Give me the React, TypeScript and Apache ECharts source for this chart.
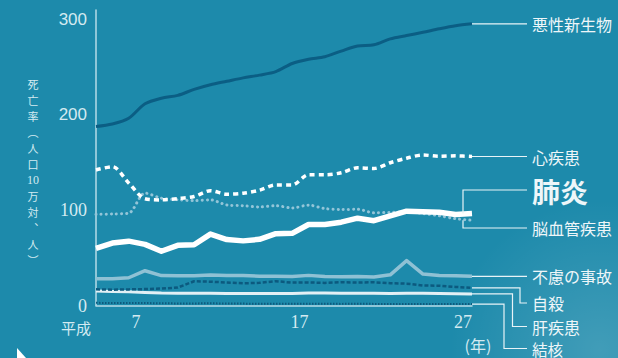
import React, { useEffect, useRef } from 'react';
import * as echarts from 'echarts';

// Heisei years 4..27
const years = ['4','5','6','7','8','9','10','11','12','13','14','15','16','17','18','19','20','21','22','23','24','25','26','27'];
const tickYears = ['7', '17', '27'];
const yTicks = [0, 100, 200, 300];

const malignant = [187.8,190.4,196.4,211.6,217.5,220.4,226.7,231.6,235.2,238.8,241.7,245.4,253.9,258.3,261.0,266.9,272.3,273.5,279.7,283.2,286.6,290.3,293.5,295.5];
const heart = [142.2,145.6,128.6,112.0,110.8,112.2,114.3,120.4,116.8,117.8,121.0,126.5,126.5,137.2,137.2,139.2,144.4,143.7,149.8,154.5,157.9,156.5,157.0,156.3];
const pneumonia = [60.0,65.5,67.5,64.1,56.9,63.1,63.8,74.9,69.2,67.8,69.4,75.3,75.7,85.0,85.0,87.4,91.6,89.0,94.1,98.9,98.4,97.8,95.4,96.5];
const cerebro = [95.6,96.0,96.9,117.9,112.6,111.0,110.0,110.8,105.5,104.7,103.4,104.7,102.3,105.3,101.7,100.8,100.9,97.2,97.7,98.2,96.5,94.1,91.1,89.4];
const accident = [28.0,28.0,29.1,36.5,31.4,31.1,31.1,32.0,31.4,31.4,30.7,30.7,30.3,31.6,30.3,30.1,30.3,30.0,32.2,47.1,33.0,31.5,31.1,30.6];
const suicide = [17.0,16.6,16.9,17.2,17.8,18.8,25.4,25.0,24.1,23.3,23.8,25.5,24.0,24.2,23.7,24.4,24.0,24.4,23.4,22.9,21.0,20.7,19.5,18.5];
const liver = [15.2,14.8,14.3,13.7,13.0,12.8,12.8,12.9,12.7,12.6,12.6,12.5,12.6,13.0,13.1,12.9,12.8,12.8,12.6,12.9,12.8,12.6,12.4,12.1];
const tb = [2.8,2.6,2.6,2.6,2.3,2.2,2.2,2.3,2.1,2.0,1.8,1.9,1.8,1.8,1.8,1.7,1.8,1.7,1.7,1.7,1.7,1.7,1.6,1.5];

const yTitle = ['死', '亡', '率', '︵', '人', '口', '10', '万', '対', '︑', '人', '︶'];

const BG = '#1d8aab';
const LABEL = '#d4eaf1';
const JP = '"Noto Sans CJK JP", "Noto Sans", sans-serif';

export default function App() {
  const ref = useRef<HTMLDivElement>(null);
  useEffect(() => {
    const chart = echarts.init(ref.current!, null, { renderer: 'svg' });
    const line = (name: string, data: number[], color: string, width: number, type: any, smooth: number | boolean, z: number, cap: string = 'butt') => ({
      name, type: 'line', data, showSymbol: false, symbol: 'none', smooth, z,
      lineStyle: { color, width, type, cap, join: 'round' },
      emphasis: { disabled: true },
    });
    chart.setOption({
      animation: false,
      backgroundColor: BG,
      grid: { left: 96, right: 146, top: 10, bottom: 52.5 },
      xAxis: {
        type: 'category', data: years, boundaryGap: false,
        axisLine: { show: true, lineStyle: { color: '#b6dbe7', width: 1.5 } },
        axisTick: { show: false },
        splitLine: { show: false },
        axisLabel: {
          interval: (i: number, v: string) => tickYears.includes(v),
          formatter: (v: string) => (tickYears.includes(v) ? v : ''),
          color: LABEL, fontFamily: '"Liberation Serif", serif', fontSize: 18, margin: 7,
          padding: [0, 18, 0, 0],
        },
      },
      yAxis: {
        type: 'value', min: 0, max: 310, interval: 100,
        axisLine: { show: true, lineStyle: { color: '#b6dbe7', width: 1.5 } },
        axisTick: { show: false },
        splitLine: { show: false },
        axisLabel: {
          margin: 9,
          formatter: (v: number) => (yTicks.includes(v) ? (v >= 200 ? `{s|${v}}` : `{r|${v}}`) : ''),
          rich: {
            s: { fontFamily: '"Liberation Sans", sans-serif', fontSize: 17, color: LABEL },
            r: { fontFamily: '"Liberation Serif", serif', fontSize: 18, color: LABEL },
          },
        },
      },
      series: [
        line('結核', tb, '#0d5a7d', 2, [1.5, 1.5], false, 3),
        line('肝疾患', liver, '#e2f0f5', 3, 'solid', false, 3),
        line('自殺', suicide, '#0c5a7f', 2.5, [4, 2], false, 3),
        line('不慮の事故', accident, '#8fc1d4', 3.5, 'solid', false, 3),
        line('脳血管疾患', cerebro, '#93c5d8', 3, [0.1, 5], 0.3, 4, 'round'),
        line('心疾患', heart, '#ffffff', 3.5, [5, 4], 0.3, 5),
        line('悪性新生物', malignant, '#0b5e84', 3, 'solid', 0.3, 5),
        line('肺炎', pneumonia, '#ffffff', 5.5, 'solid', false, 6),
      ],
    });

    const last = years.length - 1;
    const px = (v: number) => chart.convertToPixel({ gridIndex: 0 }, [last, v]) as number[];
    const endX = px(0)[0];
    const lx = 527;
    const tx = 532;
    const cc = '#e8f3f7';
    const g: any[] = [];
    const conn = (pts: number[][]) => g.push({ type: 'polyline', shape: { points: pts }, style: { stroke: cc, lineWidth: 1.2, fill: null }, z: 10 });
    const label = (text: string, y: number, size = 16, bold = false) =>
      g.push({ type: 'text', x: tx, y, style: { text, fill: '#eef6f9', font: `${bold ? 'bold ' : ''}${size}px ${JP}`, textVerticalAlign: 'middle', textAlign: 'left' }, z: 10 });

    // background texture
    g.push({ type: 'circle', shape: { cx: 600, cy: 350, r: 150 }, style: { fill: new echarts.graphic.RadialGradient(0.5, 0.5, 0.5, [{ offset: 0, color: 'rgba(255,255,255,0.16)' }, { offset: 1, color: 'rgba(255,255,255,0)' }]) }, z: -10, silent: true });
    // triangle bottom-left
    g.push({ type: 'polygon', shape: { points: [[17, 348], [26, 358], [17, 358]] }, style: { fill: '#ffffff' }, z: 10 });

    const yMal = px(malignant[last])[1];
    conn([[endX, yMal], [lx, yMal]]); label('悪性新生物', yMal);
    const yHeart = px(heart[last])[1];
    conn([[endX, yHeart], [lx, yHeart]]); label('心疾患', yHeart);
    const yPn = px(pneumonia[last])[1];
    const yCv = px(cerebro[last])[1];
    const bx = endX - 9;
    conn([[bx, yPn], [bx, 190], [lx, 190]]); label('肺炎', 191, 28, true);
    conn([[bx, yCv], [bx, 228], [lx, 228]]); label('脳血管疾患', 228);
    const yAcc = px(accident[last])[1];
    conn([[endX, yAcc], [lx, yAcc]]); label('不慮の事故', yAcc);
    const ySui = px(suicide[last])[1];
    conn([[endX, ySui], [520, ySui], [520, 303], [lx, 303]]); label('自殺', 303);
    const yLiv = px(liver[last])[1];
    conn([[endX, yLiv], [512.5, yLiv], [512.5, 326.5], [lx, 326.5]]); label('肝疾患', 326.5);
    const yTb = px(tb[last])[1];
    conn([[endX, yTb], [504, yTb], [504, 348.5], [lx, 348.5]]); label('結核', 348.5, 15.5);

    // axis texts
    g.push({ type: 'text', x: 76, y: 327, style: { text: '平成', fill: LABEL, font: `15px ${JP}`, textAlign: 'center', textVerticalAlign: 'middle' } });
    g.push({ type: 'text', x: 478, y: 345, style: { text: '(年)', fill: LABEL, font: `16px ${JP}`, textAlign: 'center', textVerticalAlign: 'middle' } });
    yTitle.forEach((ch, i) => {
      const isNum = ch === '10';
      g.push({ type: 'text', x: 33, y: 84 + i * 16, style: { text: ch, fill: LABEL, font: `${isNum ? 12 : 11}px ${isNum ? '"Liberation Serif", serif' : JP}`, textAlign: 'center', textVerticalAlign: 'middle' } });
    });

    chart.setOption({ graphic: g });
    return () => chart.dispose();
  }, []);
  return <div ref={ref} style={{ position: 'fixed', left: 0, top: 0, width: 618, height: 358 }} />;
}
